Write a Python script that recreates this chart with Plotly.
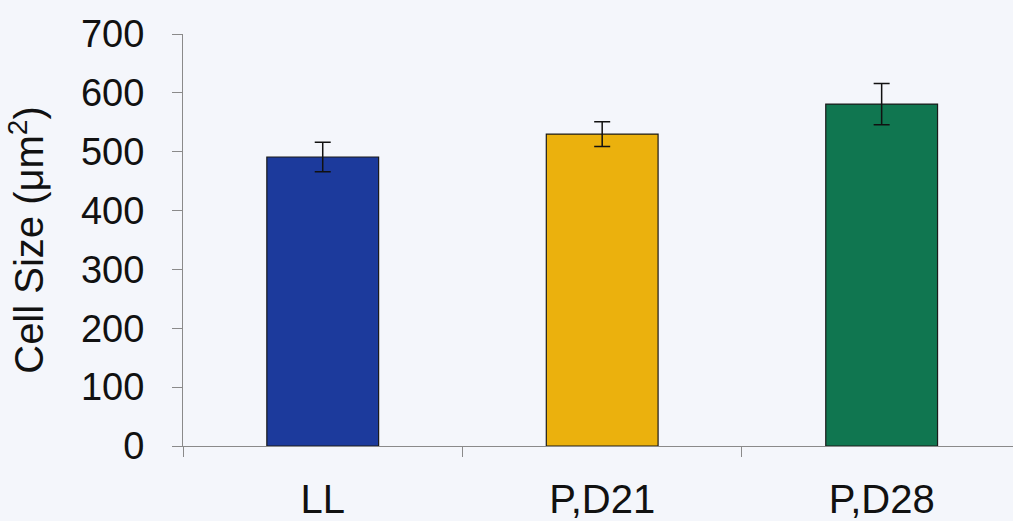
import plotly.graph_objects as go

categories = ["LL", "P,D21", "P,D28"]
values = [491, 530, 581]
errors = [25, 21, 35]
colors = ["#1c3a9c", "#ebb10d", "#107650"]

fig = go.Figure()
fig.add_trace(go.Bar(
    x=categories, y=values,
    width=0.4,
    marker=dict(color=colors, line=dict(color="#1a1a1a", width=1.2)),
    error_y=dict(type="data", array=errors, visible=True, color="#111111", thickness=1.5, width=8),
))

fig.update_layout(
    width=1013, height=521,
    paper_bgcolor="#f4f6fb", plot_bgcolor="#f4f6fb",
    margin=dict(l=183, r=0, t=34, b=75),
    showlegend=False,
    font=dict(family="Liberation Sans, Arial, sans-serif", color="#111111"),
)
fig.update_yaxes(
    range=[0, 700], tickvals=[0, 100, 200, 300, 400, 500, 600, 700],
    showgrid=False, zeroline=False, automargin=False,
    showline=True, linecolor="#8a8a8a", linewidth=1,
    ticks="outside", ticklen=10, tickcolor="#8a8a8a",
    tickfont=dict(size=38), ticklabelstandoff=20,
    title=dict(text="Cell Size (μm<sup>2</sup>)", font=dict(size=40), standoff=24),
)
fig.update_xaxes(
    range=[-0.5, 2.47], automargin=False,
    showgrid=False, zeroline=False,
    showline=True, linecolor="#8a8a8a", linewidth=1,
    ticks="outside", ticklen=10, tickcolor="#8a8a8a", tickson="boundaries",
    tickfont=dict(size=40), ticklabelstandoff=18,
)

fig.write_html("out.html", config={"displayModeBar": False},
               post_script="document.body.style.margin='0';document.body.style.overflow='hidden';")
